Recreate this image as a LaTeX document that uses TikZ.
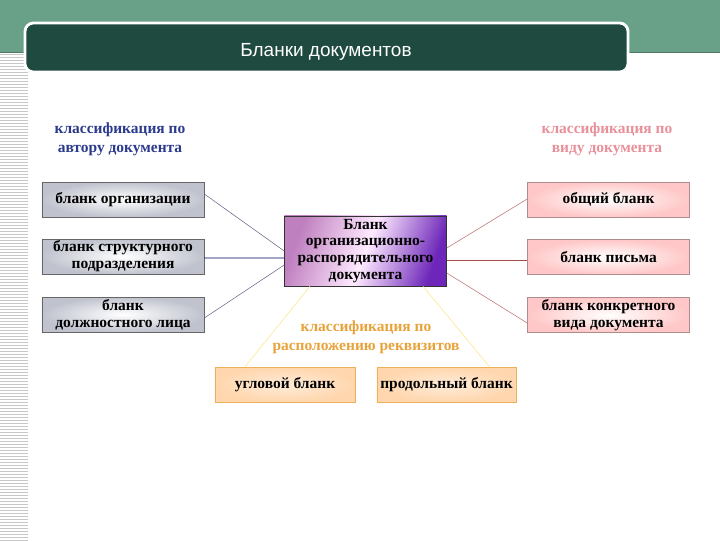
\documentclass[tikz,border=0pt]{standalone}
\usepackage{fontspec}
\setmainfont{Liberation Serif}
\newfontfamily\titlefont{Liberation Sans}
\usetikzlibrary{positioning,calc}

\definecolor{bandgreen}{HTML}{69A088}
\definecolor{titlegreen}{HTML}{1F4A40}
\definecolor{authorblue}{HTML}{2B3A8C}
\definecolor{kindpink}{HTML}{E8909A}
\definecolor{placeorange}{HTML}{E8A23A}
\definecolor{authorgray}{HTML}{C0C3CE}

\begin{document}
\begin{tikzpicture}[x=0.025cm, y=-0.025cm,
    box/.style={draw, inner sep=0pt, align=center, minimum width=4.05cm, minimum height=0.875cm,
      font=\bfseries\fontsize{11}{12}\selectfont},
    authorbox/.style={box, draw=black!60, inner color=white, outer color=authorgray},
    kindbox/.style={box, draw=red!30!black!45, inner color=white, outer color=red!22!white},
    placebox/.style={box, draw=placeorange!85!white, minimum width=3.5cm, inner color=white!85!orange, outer color=orange!32!white},
    heading/.style={align=center, font=\bfseries\fontsize{11}{13.5}\selectfont},
    stripe/.style={black!22, line width=0.5pt}]
  \useasboundingbox (0,0) rectangle (720,540);

  % background
  \fill[bandgreen] (0,0) rectangle (720,52);
  \draw[bandgreen!75!black] (0,52) -- (720,52);
  \foreach \yy in {54,57,...,540}
    \draw[stripe] (0,\yy) -- (28,\yy);
  \draw[white, line width=2pt, fill=titlegreen, rounded corners=6pt] (25,23) rectangle (628,72);
  \node[white, font=\titlefont\fontsize{13.5}{15}\selectfont] (title) at (326,52) {Бланки документов};

  % headings
  \node[heading, authorblue] (authorhd) at (120,139.5) {классификация по\\автору документа};
  \node[heading, kindpink] (kindhd) at (607,139.5) {классификация по\\виду документа};
  \node[heading, placeorange] (placehd) at (366,337.5) {классификация по\\расположению реквизитов};

  % boxes
  \node[box, draw=black!80, minimum height=1.75cm,
    left color=violet!50!white, right color=violet!65!blue!85!white, middle color=white!92!magenta,
    shading angle=70] (main) at (365.5,251)
    {Бланк\\организационно-\\распорядительного\\документа};

  \node[authorbox] (org) at (123,199.5) {бланк организации};
  \node[authorbox] (unit) at (123,256.5) {бланк структурного\\подразделения};
  \node[authorbox] (person) at (123,314.5) {бланк\\должностного лица};

  \node[kindbox] (common) at (608.5,199.5) {общий бланк};
  \node[kindbox] (letter) at (608.5,257) {бланк письма};
  \node[kindbox] (concrete) at (608.5,315) {бланк конкретного\\вида документа};

  \node[placebox] (corner) at (285,384.5) {угловой бланк};
  \node[placebox, minimum width=3.475cm] (lengthwise) at (446.5,384.5) {продольный бланк};

  % connectors
  \draw[black!20!blue!15!gray] ($(org.east)+(0,-5.5)$) -- (main.west);
  \draw[blue!40!black, semithick] ($(unit.east)+(0,1.5)$) -- ($(main.west)+(0,7)$);
  \draw[black!20!blue!15!gray] ($(person.east)+(0,3.5)$) -- ($(main.west)+(0,14)$);

  \draw[red!35!gray!80] ($(main.east)+(0,-3)$) -- ($(common.west)+(0,-0.5)$);
  \draw[red!50!black!70, semithick] ($(main.east)+(0,9)$) -- ($(letter.west)+(0,3)$);
  \draw[red!35!gray!80] ($(main.east)+(0,22)$) -- ($(concrete.west)+(0,8)$);

  \draw[yellow!60!orange!45] ($(main.south)+(-55.5,0)$) -- ($(corner.north)+(-40,0)$);
  \draw[yellow!60!orange!45] ($(main.south)+(57.5,0)$) -- ($(lengthwise.north)+(43,0)$);
\end{tikzpicture}
\end{document}
